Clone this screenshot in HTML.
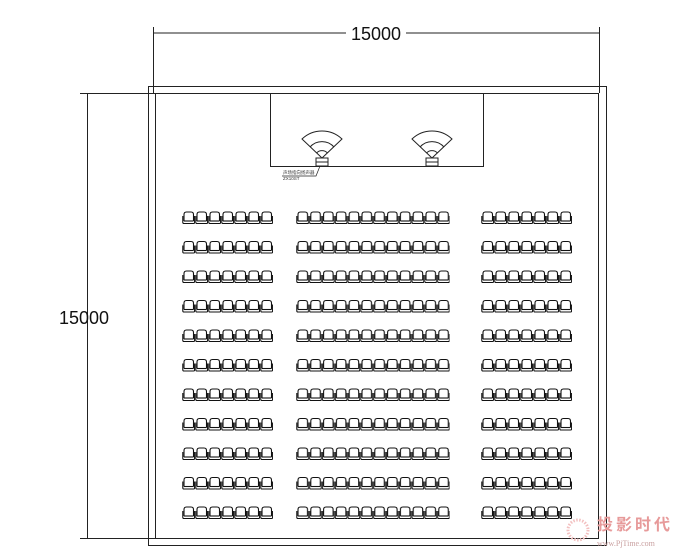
<!DOCTYPE html>
<html><head><meta charset="utf-8"><style>
html,body{margin:0;padding:0;background:#fff;}
svg{display:block;}
</style></head><body>
<svg width="700" height="560" viewBox="0 0 700 560" xmlns="http://www.w3.org/2000/svg">
<defs>
<pattern id="seat" x="182" y="211" width="13" height="29.5" patternUnits="userSpaceOnUse">
 <g fill="none" stroke="#111" stroke-width="1.1">
  <path d="M2,10 V3.5 Q2,1 4.5,1 H9 Q11.5,1 11.5,3.5 V10"/>
  <path d="M0.8,5 V11.5 Q0.8,12.5 2,12.5 H11.5 Q12.6,12.5 12.6,11.5 V5"/>
  <path d="M2,10 H11.5"/>
 </g>
</pattern>
<pattern id="seatM" x="296" y="211" width="12.8" height="29.5" patternUnits="userSpaceOnUse">
 <g fill="none" stroke="#111" stroke-width="1.1">
  <path d="M2,10 V3.5 Q2,1 4.5,1 H9 Q11.5,1 11.5,3.5 V10"/>
  <path d="M0.8,5 V11.5 Q0.8,12.5 2,12.5 H11.5 Q12.6,12.5 12.6,11.5 V5"/>
  <path d="M2,10 H11.5"/>
 </g>
</pattern>
<pattern id="seatR" x="481" y="211" width="13" height="29.5" patternUnits="userSpaceOnUse">
 <g fill="none" stroke="#111" stroke-width="1.1">
  <path d="M2,10 V3.5 Q2,1 4.5,1 H9 Q11.5,1 11.5,3.5 V10"/>
  <path d="M0.8,5 V11.5 Q0.8,12.5 2,12.5 H11.5 Q12.6,12.5 12.6,11.5 V5"/>
  <path d="M2,10 H11.5"/>
 </g>
</pattern>
</defs>
<g fill="none" stroke="#222" stroke-width="1">
 <line x1="153" y1="33" x2="600" y2="33"/>
 <line x1="153.5" y1="27" x2="153.5" y2="93"/>
 <line x1="599.5" y1="27" x2="599.5" y2="93"/>
 <line x1="87.5" y1="93" x2="87.5" y2="538"/>
 <line x1="80" y1="93.5" x2="155" y2="93.5"/>
 <line x1="80" y1="538.5" x2="155" y2="538.5"/>
 <rect x="148.5" y="86.5" width="458" height="459"/>
 <rect x="155.5" y="93.5" width="443" height="445"/>
 <polyline points="270.5,93 270.5,166.5 483.5,166.5 483.5,93"/>
</g>
<g fill="none" stroke="#222" stroke-width="1">
 <g transform="translate(322,158)">
  <path d="M0,0 L-20,-19 A29,29 0 0 1 20,-19 Z"/>
  <path d="M-12,-11 A16,16 0 0 1 12,-11"/>
  <path d="M-5.5,-5 A7.5,7.5 0 0 1 5.5,-5"/>
  <rect x="-6" y="0" width="12" height="8" fill="#fff"/>
  <line x1="-6" y1="4" x2="6" y2="4"/>
 </g>
 <g transform="translate(432,158)">
  <path d="M0,0 L-20,-19 A29,29 0 0 1 20,-19 Z"/>
  <path d="M-12,-11 A16,16 0 0 1 12,-11"/>
  <path d="M-5.5,-5 A7.5,7.5 0 0 1 5.5,-5"/>
  <rect x="-6" y="0" width="12" height="8" fill="#fff"/>
  <line x1="-6" y1="4" x2="6" y2="4"/>
 </g>
 <polyline points="320,166 316,176 282,176" stroke-width="0.7"/>
</g>
<text x="283" y="174" font-family="Liberation Sans, Noto Sans CJK SC, sans-serif" font-size="4.5" fill="#333">声场指向扬声器</text>
<text x="283" y="180" font-family="Liberation Sans, sans-serif" font-size="4.5" fill="#333">ZX10ST</text>
<rect x="182" y="211" width="91" height="312" fill="url(#seat)"/>
<rect x="296" y="211" width="153.6" height="312" fill="url(#seatM)"/>
<rect x="481" y="211" width="91" height="312" fill="url(#seatR)"/>
<rect x="346" y="24" width="60" height="18" fill="#fff"/>
<text x="376" y="40" text-anchor="middle" font-family="Liberation Sans, sans-serif" font-size="18" fill="#111">15000</text>
<text x="84" y="324" text-anchor="middle" font-family="Liberation Sans, sans-serif" font-size="18" fill="#111">15000</text>
<circle cx="578" cy="530" r="10" fill="none" stroke="#f3c0c0" stroke-width="3" stroke-dasharray="1.5 1.5"/>
<text x="597" y="530" font-family="Noto Sans CJK SC, sans-serif" font-size="16" font-weight="bold" fill="#e79a9a" letter-spacing="3">投影时代</text>
<text x="597" y="546" font-family="Liberation Serif, serif" font-size="8" fill="#c9a0a0">www.PjTime.com</text>
</svg>
</body></html>
